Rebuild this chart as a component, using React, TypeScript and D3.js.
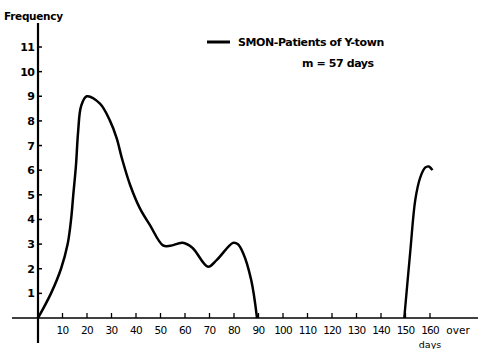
import * as d3 from "d3";
import React from "react";

// main outbreak curve (days, frequency)
const mainDays = [0, 5.3, 9.4, 12.1, 13.5, 14.4, 15.5, 16.4, 17.6, 19.9, 25.3, 29.4, 32.1, 34.2, 37.6, 41.6, 45.7, 51, 54, 59, 63, 69.4, 73, 79.6, 81.5, 83.7, 87, 89.4];
const mainFreq = [0, 1.0, 2.0, 3.0, 4.0, 5.0, 6.2, 7.6, 8.6, 9.0, 8.7, 8.0, 7.3, 6.5, 5.4, 4.45, 3.77, 2.95, 2.93, 3.05, 2.85, 2.08, 2.36, 3.05, 3.0, 2.64, 1.55, 0];
// late group
const lateDays = [149.5, 152, 154, 156, 158, 159.5, 161];
const lateFreq = [0, 2.76, 4.8, 5.7, 6.1, 6.15, 6.0];

const xTicks = [10, 20, 30, 40, 50, 60, 70, 80, 90, 100, 110, 120, 130, 140, 150, 160];
const yTicks = [1, 2, 3, 4, 5, 6, 7, 8, 9, 10, 11];

const font = "'DejaVu Sans', sans-serif";

export default function App() {
  const W = 478, H = 349;
  const x = d3.scaleLinear().domain([0, 160]).range([38, 430]);
  const y = d3.scaleLinear().domain([0, 11]).range([318, 47]);

  const mk = (days: number[], freq: number[]) =>
    d3.line<number>()
      .x((d) => x(d))
      .y((d, i) => y(freq[i]))
      .curve(d3.curveCatmullRom.alpha(0.5))(days);

  const mainPath = mk(mainDays, mainFreq);
  const latePath = mk(lateDays, lateFreq);

  return (
    <svg width={W} height={H} style={{ position: "absolute", left: 0, top: 0, background: "#fff" }}>
      {/* axes */}
      <line x1={x(0)} y1={23} x2={x(0)} y2={343} stroke="#000" strokeWidth={2.2} />
      <line x1={12} y1={y(0)} x2={478} y2={y(0)} stroke="#000" strokeWidth={1.6} />

      {yTicks.map((t) => (
        <g key={t}>
          <line x1={x(0)} x2={x(0) + 4} y1={y(t)} y2={y(t)} stroke="#000" strokeWidth={1.5} />
          <text x={x(0) - 4} y={y(t)} dy="0.36em" textAnchor="end" fontFamily={font} fontWeight="bold" fontSize={11} letterSpacing={-0.8}>
            {t}
          </text>
        </g>
      ))}

      {xTicks.map((t) => (
        <g key={t}>
          <line x1={x(t)} x2={x(t)} y1={y(0)} y2={y(0) - 5} stroke="#000" strokeWidth={1.3} />
          <text x={x(t)} y={334} textAnchor="middle" fontFamily={font} fontSize={10.5} letterSpacing={-0.8}>
            {t}
          </text>
        </g>
      ))}
      <text x={458} y={334} textAnchor="middle" fontFamily={font} fontSize={10.5}>over</text>
      <text x={430} y={348} textAnchor="middle" fontFamily={font} fontSize={9.5}>days</text>

      <text x={4} y={20} fontFamily={font} fontWeight="bold" fontSize={10.5} letterSpacing={-0.3}>Frequency</text>

      {/* legend */}
      <line x1={207} x2={230} y1={42} y2={42} stroke="#000" strokeWidth={3} />
      <text x={238} y={46} fontFamily={font} fontWeight="bold" fontSize={11} letterSpacing={-0.4}>SMON-Patients of Y-town</text>
      <text x={302} y={67} fontFamily={font} fontWeight="bold" fontSize={11} letterSpacing={-0.4}>m = 57 days</text>

      {/* curves */}
      <path d={mainPath} fill="none" stroke="#000" strokeWidth={2.5} strokeLinejoin="round" />
      <path d={latePath} fill="none" stroke="#000" strokeWidth={2.4} strokeLinejoin="round" />
    </svg>
  );
}
